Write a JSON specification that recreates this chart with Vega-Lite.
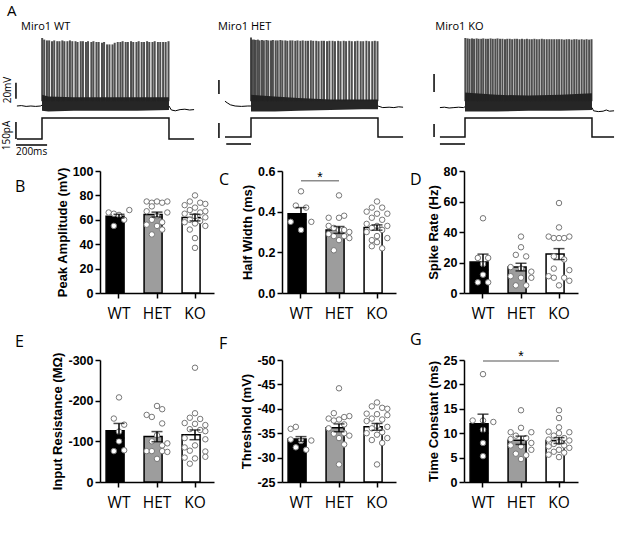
{
"$schema":"https://vega.github.io/schema/vega-lite/v6.json",
"padding":{"left":2,"top":3,"right":0,"bottom":8},
"autosize":{"type":"pad"},
"columns":3,
"spacing":{"row":67,"column":68},
"bounds":"flush",
"align":"each",
"datasets":{
"pts":[
{"m":"B","g":"WT","v":66,"s":-2},{"m":"B","g":"WT","v":65,"s":-1},{"m":"B","g":"WT","v":64,"s":0},{"m":"B","g":"WT","v":68,"s":2},{"m":"B","g":"WT","v":55,"s":-1},{"m":"B","g":"WT","v":60,"s":1},
{"m":"B","g":"HET","v":75,"s":-2},{"m":"B","g":"HET","v":74,"s":-1},{"m":"B","g":"HET","v":75,"s":0},{"m":"B","g":"HET","v":74,"s":1},{"m":"B","g":"HET","v":75,"s":2},{"m":"B","g":"HET","v":71,"s":-1},{"m":"B","g":"HET","v":67,"s":-2},{"m":"B","g":"HET","v":66,"s":2},{"m":"B","g":"HET","v":63,"s":0},{"m":"B","g":"HET","v":60,"s":-1},{"m":"B","g":"HET","v":58,"s":1},{"m":"B","g":"HET","v":56,"s":-2},{"m":"B","g":"HET","v":55,"s":0},{"m":"B","g":"HET","v":52,"s":1},{"m":"B","g":"HET","v":48,"s":-1},
{"m":"B","g":"KO","v":80,"s":0},{"m":"B","g":"KO","v":75,"s":-1},{"m":"B","g":"KO","v":74,"s":1},{"m":"B","g":"KO","v":73,"s":2},{"m":"B","g":"KO","v":72,"s":-2},{"m":"B","g":"KO","v":70,"s":0},{"m":"B","g":"KO","v":68,"s":-1},{"m":"B","g":"KO","v":67,"s":2},{"m":"B","g":"KO","v":66,"s":1},{"m":"B","g":"KO","v":65,"s":-2},{"m":"B","g":"KO","v":63,"s":0},{"m":"B","g":"KO","v":62,"s":2},{"m":"B","g":"KO","v":60,"s":-1},{"m":"B","g":"KO","v":59,"s":1},{"m":"B","g":"KO","v":58,"s":-2},{"m":"B","g":"KO","v":57,"s":0},{"m":"B","g":"KO","v":55,"s":2},{"m":"B","g":"KO","v":52,"s":-1},{"m":"B","g":"KO","v":45,"s":0},{"m":"B","g":"KO","v":37,"s":0},
{"m":"C","g":"WT","v":0.5,"s":0},{"m":"C","g":"WT","v":0.43,"s":-1},{"m":"C","g":"WT","v":0.42,"s":1},{"m":"C","g":"WT","v":0.35,"s":-2},{"m":"C","g":"WT","v":0.35,"s":2},{"m":"C","g":"WT","v":0.31,"s":0},
{"m":"C","g":"HET","v":0.48,"s":0},{"m":"C","g":"HET","v":0.37,"s":-2},{"m":"C","g":"HET","v":0.37,"s":0},{"m":"C","g":"HET","v":0.38,"s":1},{"m":"C","g":"HET","v":0.33,"s":-2},{"m":"C","g":"HET","v":0.32,"s":-1},{"m":"C","g":"HET","v":0.31,"s":1},{"m":"C","g":"HET","v":0.3,"s":2},{"m":"C","g":"HET","v":0.31,"s":0},{"m":"C","g":"HET","v":0.29,"s":-2},{"m":"C","g":"HET","v":0.28,"s":-1},{"m":"C","g":"HET","v":0.28,"s":1},{"m":"C","g":"HET","v":0.26,"s":0},{"m":"C","g":"HET","v":0.27,"s":2},{"m":"C","g":"HET","v":0.21,"s":-1},
{"m":"C","g":"KO","v":0.45,"s":0},{"m":"C","g":"KO","v":0.42,"s":-1},{"m":"C","g":"KO","v":0.42,"s":1},{"m":"C","g":"KO","v":0.4,"s":-2},{"m":"C","g":"KO","v":0.39,"s":0},{"m":"C","g":"KO","v":0.39,"s":2},{"m":"C","g":"KO","v":0.37,"s":-1},{"m":"C","g":"KO","v":0.36,"s":1},{"m":"C","g":"KO","v":0.34,"s":-2},{"m":"C","g":"KO","v":0.33,"s":0},{"m":"C","g":"KO","v":0.33,"s":2},{"m":"C","g":"KO","v":0.32,"s":-1},{"m":"C","g":"KO","v":0.31,"s":1},{"m":"C","g":"KO","v":0.3,"s":-2},{"m":"C","g":"KO","v":0.28,"s":0},{"m":"C","g":"KO","v":0.27,"s":2},{"m":"C","g":"KO","v":0.26,"s":-1},{"m":"C","g":"KO","v":0.23,"s":-1},{"m":"C","g":"KO","v":0.22,"s":1},{"m":"C","g":"KO","v":0.25,"s":0},
{"m":"D","g":"WT","v":49,"s":0},{"m":"D","g":"WT","v":23,"s":-1},{"m":"D","g":"WT","v":23,"s":1},{"m":"D","g":"WT","v":19,"s":0},{"m":"D","g":"WT","v":12,"s":0},{"m":"D","g":"WT","v":7,"s":-1},{"m":"D","g":"WT","v":7,"s":1},
{"m":"D","g":"HET","v":37,"s":0},{"m":"D","g":"HET","v":30,"s":0},{"m":"D","g":"HET","v":25,"s":-1},{"m":"D","g":"HET","v":24,"s":1},{"m":"D","g":"HET","v":17,"s":-2},{"m":"D","g":"HET","v":16,"s":0},{"m":"D","g":"HET","v":14,"s":2},{"m":"D","g":"HET","v":11,"s":-2},{"m":"D","g":"HET","v":10,"s":0},{"m":"D","g":"HET","v":10,"s":2},{"m":"D","g":"HET","v":5,"s":-1},{"m":"D","g":"HET","v":5,"s":1},
{"m":"D","g":"KO","v":59,"s":0},{"m":"D","g":"KO","v":43,"s":0},{"m":"D","g":"KO","v":37,"s":-2},{"m":"D","g":"KO","v":36,"s":-1},{"m":"D","g":"KO","v":36,"s":0},{"m":"D","g":"KO","v":36,"s":1},{"m":"D","g":"KO","v":37,"s":2},{"m":"D","g":"KO","v":24,"s":-1},{"m":"D","g":"KO","v":22,"s":1},{"m":"D","g":"KO","v":16,"s":-1},{"m":"D","g":"KO","v":15,"s":2},{"m":"D","g":"KO","v":11,"s":-2},{"m":"D","g":"KO","v":10,"s":-1},{"m":"D","g":"KO","v":10,"s":1},{"m":"D","g":"KO","v":8,"s":2},{"m":"D","g":"KO","v":5,"s":0},
{"m":"E","g":"WT","v":-208,"s":0},{"m":"E","g":"WT","v":-156,"s":-1},{"m":"E","g":"WT","v":-141,"s":1},{"m":"E","g":"WT","v":-124,"s":0},{"m":"E","g":"WT","v":-100,"s":0},{"m":"E","g":"WT","v":-76,"s":-1},{"m":"E","g":"WT","v":-78,"s":1},
{"m":"E","g":"HET","v":-187,"s":0},{"m":"E","g":"HET","v":-179,"s":1},{"m":"E","g":"HET","v":-165,"s":-2},{"m":"E","g":"HET","v":-160,"s":-1},{"m":"E","g":"HET","v":-144,"s":1},{"m":"E","g":"HET","v":-115,"s":0},{"m":"E","g":"HET","v":-100,"s":-1},{"m":"E","g":"HET","v":-95,"s":2},{"m":"E","g":"HET","v":-90,"s":1},{"m":"E","g":"HET","v":-76,"s":-2},{"m":"E","g":"HET","v":-76,"s":-1},{"m":"E","g":"HET","v":-76,"s":1},{"m":"E","g":"HET","v":-74,"s":2},{"m":"E","g":"HET","v":-57,"s":0},
{"m":"E","g":"KO","v":-281,"s":0},{"m":"E","g":"KO","v":-169,"s":0},{"m":"E","g":"KO","v":-158,"s":-1},{"m":"E","g":"KO","v":-155,"s":1},{"m":"E","g":"KO","v":-145,"s":-2},{"m":"E","g":"KO","v":-143,"s":0},{"m":"E","g":"KO","v":-140,"s":2},{"m":"E","g":"KO","v":-130,"s":-1},{"m":"E","g":"KO","v":-128,"s":1},{"m":"E","g":"KO","v":-125,"s":2},{"m":"E","g":"KO","v":-108,"s":-2},{"m":"E","g":"KO","v":-105,"s":2},{"m":"E","g":"KO","v":-90,"s":0},{"m":"E","g":"KO","v":-85,"s":-2},{"m":"E","g":"KO","v":-77,"s":-1},{"m":"E","g":"KO","v":-75,"s":2},{"m":"E","g":"KO","v":-60,"s":-2},{"m":"E","g":"KO","v":-58,"s":0},{"m":"E","g":"KO","v":-62,"s":2},{"m":"E","g":"KO","v":-45,"s":-1},
{"m":"F","g":"WT","v":-35.9,"s":-2},{"m":"F","g":"WT","v":-36.3,"s":-1},{"m":"F","g":"WT","v":-33.7,"s":-2},{"m":"F","g":"WT","v":-33.5,"s":2},{"m":"F","g":"WT","v":-33.4,"s":0},{"m":"F","g":"WT","v":-32.1,"s":-1},{"m":"F","g":"WT","v":-31.6,"s":1},
{"m":"F","g":"HET","v":-44.2,"s":0},{"m":"F","g":"HET","v":-39.1,"s":-1},{"m":"F","g":"HET","v":-38.5,"s":2},{"m":"F","g":"HET","v":-38.3,"s":1},{"m":"F","g":"HET","v":-38,"s":-2},{"m":"F","g":"HET","v":-37.8,"s":0},{"m":"F","g":"HET","v":-37.6,"s":-1},{"m":"F","g":"HET","v":-36.8,"s":1},{"m":"F","g":"HET","v":-36,"s":-2},{"m":"F","g":"HET","v":-35,"s":1},{"m":"F","g":"HET","v":-34.9,"s":-1},{"m":"F","g":"HET","v":-34.5,"s":2},{"m":"F","g":"HET","v":-34,"s":0},{"m":"F","g":"HET","v":-32.7,"s":1},{"m":"F","g":"HET","v":-28.6,"s":0},
{"m":"F","g":"KO","v":-41.3,"s":0},{"m":"F","g":"KO","v":-40.5,"s":-1},{"m":"F","g":"KO","v":-40.2,"s":1},{"m":"F","g":"KO","v":-40,"s":2},{"m":"F","g":"KO","v":-39,"s":-2},{"m":"F","g":"KO","v":-38.9,"s":0},{"m":"F","g":"KO","v":-38.7,"s":2},{"m":"F","g":"KO","v":-38,"s":-1},{"m":"F","g":"KO","v":-37.8,"s":1},{"m":"F","g":"KO","v":-37.5,"s":-2},{"m":"F","g":"KO","v":-36.5,"s":0},{"m":"F","g":"KO","v":-36.3,"s":2},{"m":"F","g":"KO","v":-36,"s":-1},{"m":"F","g":"KO","v":-35.2,"s":1},{"m":"F","g":"KO","v":-35,"s":-2},{"m":"F","g":"KO","v":-34.7,"s":0},{"m":"F","g":"KO","v":-34,"s":2},{"m":"F","g":"KO","v":-33.6,"s":-1},{"m":"F","g":"KO","v":-33,"s":1},{"m":"F","g":"KO","v":-28.6,"s":0},
{"m":"G","g":"WT","v":22.1,"s":0},{"m":"G","g":"WT","v":12.6,"s":-2},{"m":"G","g":"WT","v":12.6,"s":0},{"m":"G","g":"WT","v":12.3,"s":2},{"m":"G","g":"WT","v":10.7,"s":0},{"m":"G","g":"WT","v":8,"s":0},{"m":"G","g":"WT","v":5.3,"s":0},
{"m":"G","g":"HET","v":14.7,"s":0},{"m":"G","g":"HET","v":11.1,"s":0},{"m":"G","g":"HET","v":10.2,"s":-2},{"m":"G","g":"HET","v":10.2,"s":2},{"m":"G","g":"HET","v":9.5,"s":-1},{"m":"G","g":"HET","v":9,"s":1},{"m":"G","g":"HET","v":8.8,"s":-2},{"m":"G","g":"HET","v":8,"s":2},{"m":"G","g":"HET","v":7.5,"s":-2},{"m":"G","g":"HET","v":7.3,"s":0},{"m":"G","g":"HET","v":6.6,"s":2},{"m":"G","g":"HET","v":5.8,"s":-1},{"m":"G","g":"HET","v":5.5,"s":1},{"m":"G","g":"HET","v":4.7,"s":0},
{"m":"G","g":"KO","v":14.7,"s":0},{"m":"G","g":"KO","v":13.1,"s":0},{"m":"G","g":"KO","v":11.2,"s":0},{"m":"G","g":"KO","v":10.3,"s":-2},{"m":"G","g":"KO","v":10.2,"s":2},{"m":"G","g":"KO","v":10,"s":0},{"m":"G","g":"KO","v":9.5,"s":-1},{"m":"G","g":"KO","v":9,"s":1},{"m":"G","g":"KO","v":8.7,"s":-2},{"m":"G","g":"KO","v":8.5,"s":2},{"m":"G","g":"KO","v":8.2,"s":0},{"m":"G","g":"KO","v":7.8,"s":-1},{"m":"G","g":"KO","v":7.5,"s":1},{"m":"G","g":"KO","v":7.3,"s":-2},{"m":"G","g":"KO","v":7,"s":2},{"m":"G","g":"KO","v":6.6,"s":0},{"m":"G","g":"KO","v":6.2,"s":-1},{"m":"G","g":"KO","v":6,"s":1},{"m":"G","g":"KO","v":5.6,"s":-2},{"m":"G","g":"KO","v":5.1,"s":0}
],
"sum":[
{"m":"B","g":"WT","v":63,"lo":61.5,"hi":64.5},{"m":"B","g":"HET","v":64.3,"lo":62.3,"hi":66.3},{"m":"B","g":"KO","v":61.8,"lo":59.1,"hi":64.5},
{"m":"C","g":"WT","v":0.39,"lo":0.36,"hi":0.42},{"m":"C","g":"HET","v":0.31,"lo":0.293,"hi":0.327},{"m":"C","g":"KO","v":0.322,"lo":0.309,"hi":0.335},
{"m":"D","g":"WT","v":20.3,"lo":15.1,"hi":25.5},{"m":"D","g":"HET","v":17,"lo":14.5,"hi":19.5},{"m":"D","g":"KO","v":25.5,"lo":21.9,"hi":29.1},
{"m":"E","g":"WT","v":-126,"lo":-108,"hi":-144},{"m":"E","g":"HET","v":-111.6,"lo":-99,"hi":-124},{"m":"E","g":"KO","v":-116,"lo":-104,"hi":-128},
{"m":"F","g":"WT","v":-33.8,"lo":-33.3,"hi":-34.3},{"m":"F","g":"HET","v":-36.1,"lo":-35.3,"hi":-36.9},{"m":"F","g":"KO","v":-36.3,"lo":-35.6,"hi":-37},
{"m":"G","g":"WT","v":11.96,"lo":10,"hi":13.9},{"m":"G","g":"HET","v":8.56,"lo":7.7,"hi":9.4},{"m":"G","g":"KO","v":8.5,"lo":7.9,"hi":9.1}
],
"spk":[
{"tr":"WT","t":1,"pk":21},{"tr":"WT","t":14,"pk":19},{"tr":"WT","t":31,"pk":18},{"tr":"WT","t":45,"pk":18},{"tr":"WT","t":63,"pk":17},{"tr":"WT","t":77,"pk":18},{"tr":"WT","t":96,"pk":17},{"tr":"WT","t":110,"pk":17},{"tr":"WT","t":128,"pk":18},{"tr":"WT","t":141,"pk":17},{"tr":"WT","t":160,"pk":17},{"tr":"WT","t":176,"pk":18},{"tr":"WT","t":191,"pk":17},{"tr":"WT","t":211,"pk":17},{"tr":"WT","t":224,"pk":16},{"tr":"WT","t":244,"pk":17},{"tr":"WT","t":258,"pk":17},{"tr":"WT","t":277,"pk":16},{"tr":"WT","t":290,"pk":17},{"tr":"WT","t":311,"pk":16},{"tr":"WT","t":324,"pk":17},{"tr":"WT","t":343,"pk":16},{"tr":"WT","t":357,"pk":16},{"tr":"WT","t":378,"pk":15},{"tr":"WT","t":391,"pk":16},{"tr":"WT","t":410,"pk":13},{"tr":"WT","t":425,"pk":13},{"tr":"WT","t":444,"pk":13},{"tr":"WT","t":458,"pk":15},{"tr":"WT","t":477,"pk":16},{"tr":"WT","t":494,"pk":16},{"tr":"WT","t":508,"pk":17},{"tr":"WT","t":527,"pk":16},{"tr":"WT","t":541,"pk":16},{"tr":"WT","t":561,"pk":17},{"tr":"WT","t":575,"pk":16},{"tr":"WT","t":595,"pk":16},{"tr":"WT","t":609,"pk":17},{"tr":"WT","t":628,"pk":16},{"tr":"WT","t":643,"pk":16},{"tr":"WT","t":662,"pk":17},{"tr":"WT","t":676,"pk":16},{"tr":"WT","t":696,"pk":16},{"tr":"WT","t":710,"pk":17},{"tr":"WT","t":730,"pk":16},{"tr":"WT","t":745,"pk":16},{"tr":"WT","t":763,"pk":16},{"tr":"WT","t":779,"pk":16},{"tr":"WT","t":797,"pk":17},
{"tr":"HET","t":0,"pk":21.5},{"tr":"HET","t":9,"pk":19},{"tr":"HET","t":20,"pk":19},{"tr":"HET","t":30,"pk":18.5},{"tr":"HET","t":43,"pk":19},{"tr":"HET","t":54,"pk":18},{"tr":"HET","t":69,"pk":18.5},{"tr":"HET","t":81,"pk":18},{"tr":"HET","t":97,"pk":18.5},{"tr":"HET","t":109,"pk":18},{"tr":"HET","t":126,"pk":18},{"tr":"HET","t":138,"pk":18.5},{"tr":"HET","t":155,"pk":18},{"tr":"HET","t":168,"pk":18},{"tr":"HET","t":185,"pk":18.5},{"tr":"HET","t":198,"pk":18},{"tr":"HET","t":216,"pk":18},{"tr":"HET","t":229,"pk":17.5},{"tr":"HET","t":247,"pk":18},{"tr":"HET","t":261,"pk":18},{"tr":"HET","t":279,"pk":17.5},{"tr":"HET","t":293,"pk":18},{"tr":"HET","t":311,"pk":17.5},{"tr":"HET","t":326,"pk":18},{"tr":"HET","t":344,"pk":17.5},{"tr":"HET","t":359,"pk":17.5},{"tr":"HET","t":377,"pk":18},{"tr":"HET","t":392,"pk":17.5},{"tr":"HET","t":411,"pk":17.5},{"tr":"HET","t":426,"pk":17},{"tr":"HET","t":445,"pk":17.5},{"tr":"HET","t":460,"pk":17.5},{"tr":"HET","t":479,"pk":17},{"tr":"HET","t":494,"pk":17.5},{"tr":"HET","t":514,"pk":17.5},{"tr":"HET","t":529,"pk":17},{"tr":"HET","t":549,"pk":17.5},{"tr":"HET","t":564,"pk":17},{"tr":"HET","t":584,"pk":17.5},{"tr":"HET","t":599,"pk":17},{"tr":"HET","t":619,"pk":17.5},{"tr":"HET","t":635,"pk":17},{"tr":"HET","t":655,"pk":17},{"tr":"HET","t":671,"pk":17.5},{"tr":"HET","t":691,"pk":17},{"tr":"HET","t":707,"pk":17},{"tr":"HET","t":727,"pk":17.5},{"tr":"HET","t":744,"pk":17},{"tr":"HET","t":764,"pk":17},{"tr":"HET","t":780,"pk":17.5},{"tr":"HET","t":797,"pk":17},
{"tr":"KO","t":2,"pk":21},{"tr":"KO","t":16,"pk":20.5},{"tr":"KO","t":29,"pk":20},{"tr":"KO","t":44,"pk":20.5},{"tr":"KO","t":57,"pk":20},{"tr":"KO","t":73,"pk":20.5},{"tr":"KO","t":86,"pk":20},{"tr":"KO","t":102,"pk":20},{"tr":"KO","t":115,"pk":20.5},{"tr":"KO","t":131,"pk":20},{"tr":"KO","t":145,"pk":20},{"tr":"KO","t":161,"pk":20.5},{"tr":"KO","t":175,"pk":20},{"tr":"KO","t":191,"pk":20},{"tr":"KO","t":205,"pk":20.5},{"tr":"KO","t":221,"pk":20},{"tr":"KO","t":236,"pk":20},{"tr":"KO","t":252,"pk":19.5},{"tr":"KO","t":266,"pk":20},{"tr":"KO","t":282,"pk":20},{"tr":"KO","t":297,"pk":19.5},{"tr":"KO","t":313,"pk":20},{"tr":"KO","t":328,"pk":20},{"tr":"KO","t":344,"pk":19.5},{"tr":"KO","t":359,"pk":20},{"tr":"KO","t":375,"pk":19.5},{"tr":"KO","t":390,"pk":20},{"tr":"KO","t":406,"pk":19.5},{"tr":"KO","t":421,"pk":19.5},{"tr":"KO","t":437,"pk":20},{"tr":"KO","t":452,"pk":19.5},{"tr":"KO","t":468,"pk":19.5},{"tr":"KO","t":484,"pk":20},{"tr":"KO","t":499,"pk":19.5},{"tr":"KO","t":515,"pk":19.5},{"tr":"KO","t":531,"pk":19.5},{"tr":"KO","t":546,"pk":19.5},{"tr":"KO","t":562,"pk":19.5},{"tr":"KO","t":578,"pk":19.5},{"tr":"KO","t":593,"pk":19.5},{"tr":"KO","t":609,"pk":19.5},{"tr":"KO","t":625,"pk":19},{"tr":"KO","t":640,"pk":19.5},{"tr":"KO","t":656,"pk":19.5},{"tr":"KO","t":672,"pk":19},{"tr":"KO","t":688,"pk":19.5},{"tr":"KO","t":703,"pk":19.5},{"tr":"KO","t":719,"pk":19},{"tr":"KO","t":735,"pk":19.5},{"tr":"KO","t":751,"pk":19},{"tr":"KO","t":766,"pk":19.5},{"tr":"KO","t":782,"pk":19},{"tr":"KO","t":797,"pk":19.5}
],
"base":[
{"tr":"WT","seg":"a","t":-158,"v":-64},{"tr":"WT","seg":"a","t":-130,"v":-63.5},{"tr":"WT","seg":"a","t":-100,"v":-64.5},{"tr":"WT","seg":"a","t":-70,"v":-64},{"tr":"WT","seg":"a","t":-40,"v":-64.5},{"tr":"WT","seg":"a","t":-10,"v":-64},{"tr":"WT","seg":"a","t":0,"v":-63},
{"tr":"WT","seg":"b","t":800,"v":-64},{"tr":"WT","seg":"b","t":815,"v":-69},{"tr":"WT","seg":"b","t":840,"v":-70},{"tr":"WT","seg":"b","t":870,"v":-68.5},{"tr":"WT","seg":"b","t":900,"v":-68},{"tr":"WT","seg":"b","t":930,"v":-69},{"tr":"WT","seg":"b","t":958,"v":-68.5},
{"tr":"HET","seg":"a","t":-164,"v":-58},{"tr":"HET","seg":"a","t":-150,"v":-60},{"tr":"HET","seg":"a","t":-130,"v":-62.5},{"tr":"HET","seg":"a","t":-100,"v":-64},{"tr":"HET","seg":"a","t":-60,"v":-64.5},{"tr":"HET","seg":"a","t":-20,"v":-64},{"tr":"HET","seg":"a","t":0,"v":-64},
{"tr":"HET","seg":"b","t":800,"v":-64},{"tr":"HET","seg":"b","t":830,"v":-66},{"tr":"HET","seg":"b","t":870,"v":-65.5},{"tr":"HET","seg":"b","t":900,"v":-66},{"tr":"HET","seg":"b","t":930,"v":-65},{"tr":"HET","seg":"b","t":958,"v":-65.5},
{"tr":"KO","seg":"a","t":-158,"v":-66},{"tr":"KO","seg":"a","t":-130,"v":-65.5},{"tr":"KO","seg":"a","t":-100,"v":-66.5},{"tr":"KO","seg":"a","t":-70,"v":-66},{"tr":"KO","seg":"a","t":-40,"v":-65.5},{"tr":"KO","seg":"a","t":-10,"v":-66},{"tr":"KO","seg":"a","t":0,"v":-65},
{"tr":"KO","seg":"b","t":800,"v":-66},{"tr":"KO","seg":"b","t":810,"v":-70},{"tr":"KO","seg":"b","t":840,"v":-71},{"tr":"KO","seg":"b","t":870,"v":-70.5},{"tr":"KO","seg":"b","t":890,"v":-69},{"tr":"KO","seg":"b","t":910,"v":-70.5},{"tr":"KO","seg":"b","t":939,"v":-70}
],
"band":[
{"tr":"WT","t":0,"hi":-50,"lo":-70},{"tr":"WT","t":40,"hi":-52,"lo":-71},{"tr":"WT","t":200,"hi":-53,"lo":-70},{"tr":"WT","t":400,"hi":-53,"lo":-70},{"tr":"WT","t":600,"hi":-53,"lo":-70},{"tr":"WT","t":800,"hi":-53,"lo":-69},
{"tr":"HET","t":0,"hi":-50,"lo":-71},{"tr":"HET","t":150,"hi":-52,"lo":-71},{"tr":"HET","t":300,"hi":-54,"lo":-70},{"tr":"HET","t":500,"hi":-56,"lo":-69},{"tr":"HET","t":700,"hi":-56,"lo":-68},{"tr":"HET","t":800,"hi":-56,"lo":-68},
{"tr":"KO","t":0,"hi":-47,"lo":-71},{"tr":"KO","t":200,"hi":-50,"lo":-71},{"tr":"KO","t":400,"hi":-51,"lo":-70},{"tr":"KO","t":600,"hi":-50,"lo":-70},{"tr":"KO","t":800,"hi":-48,"lo":-69}
],
"cur":[
{"tr":"WT","k":1,"t":-158,"i":-10},{"tr":"WT","k":2,"t":0,"i":-10},{"tr":"WT","k":3,"t":0,"i":200},{"tr":"WT","k":4,"t":800,"i":200},{"tr":"WT","k":5,"t":800,"i":-10},{"tr":"WT","k":6,"t":958,"i":-10},
{"tr":"HET","k":1,"t":-164,"i":10},{"tr":"HET","k":2,"t":0,"i":10},{"tr":"HET","k":3,"t":0,"i":200},{"tr":"HET","k":4,"t":800,"i":200},{"tr":"HET","k":5,"t":800,"i":10},{"tr":"HET","k":6,"t":958,"i":10},
{"tr":"KO","k":1,"t":-158,"i":10},{"tr":"KO","k":2,"t":0,"i":10},{"tr":"KO","k":3,"t":0,"i":200},{"tr":"KO","k":4,"t":800,"i":200},{"tr":"KO","k":5,"t":800,"i":10},{"tr":"KO","k":6,"t":939,"i":10}
]
},
"concat":[
{"width":114,"height":68,"resolve":{"scale":{"y":"independent"}},"layer":[
 {"layer":[
  {"data":{"name":"band"},"transform":[{"filter":"datum.tr=='WT'"}],"mark":{"type":"area","color":"#000","opacity":0.85},"encoding":{"x":{"field":"t","type":"quantitative","scale":{"domain":[365.4,1083.6],"nice":false,"zero":false},"axis":null},"y":{"field":"hi","type":"quantitative","scale":{"domain":[-61.5,23.5],"nice":false,"zero":false},"axis":null},"y2":{"field":"lo"}}},
  {"data":{"name":"spk"},"transform":[{"filter":"datum.tr=='WT'"}],"mark":{"type":"rule","color":"#222222","strokeWidth":2,"opacity":0.8},"encoding":{"x":{"field":"t","type":"quantitative","scale":{"domain":[365.4,1083.6],"nice":false,"zero":false},"axis":null},"y":{"field":"pk","type":"quantitative","scale":{"domain":[-61.5,23.5],"nice":false,"zero":false},"axis":null},"y2":{"datum":-58}}},
  {"data":{"name":"base"},"transform":[{"filter":"datum.tr=='WT'"}],"mark":{"type":"line","color":"#000","strokeWidth":1},"encoding":{"x":{"field":"t","type":"quantitative","scale":{"domain":[365.4,1083.6],"nice":false,"zero":false},"axis":null},"y":{"field":"v","type":"quantitative","scale":{"domain":[-61.5,23.5],"nice":false,"zero":false},"axis":null},"detail":{"field":"seg","type":"nominal"}}},
  {"data":{"values":[{}]},"mark":{"type":"rule","color":"#000","strokeWidth":1.5},"encoding":{"x":{"datum":-164,"type":"quantitative","scale":{"domain":[365.4,1083.6],"nice":false,"zero":false},"axis":null},"y":{"datum":-55,"type":"quantitative","scale":{"domain":[-61.5,23.5],"nice":false,"zero":false},"axis":null},"y2":{"datum":-35}}},
  {"data":{"values":[{}]},"mark":{"type":"text","text":"A","font":"Open Sans","fontSize":15,"align":"left","baseline":"middle"},"encoding":{"x":{"datum":-220,"type":"quantitative","scale":{"domain":[365.4,1083.6],"nice":false,"zero":false},"axis":null},"y":{"datum":55,"type":"quantitative","scale":{"domain":[-61.5,23.5],"nice":false,"zero":false},"axis":null}}},
  {"data":{"values":[{}]},"mark":{"type":"text","text":"Miro1 WT","font":"Open Sans","fontSize":11,"align":"left","baseline":"middle"},"encoding":{"x":{"datum":-132,"type":"quantitative","scale":{"domain":[365.4,1083.6],"nice":false,"zero":false},"axis":null},"y":{"datum":34.4,"type":"quantitative","scale":{"domain":[-61.5,23.5],"nice":false,"zero":false},"axis":null}}},
  {"data":{"values":[{}]},"mark":{"type":"text","text":"20mV","font":"Open Sans","fontSize":10,"angle":270,"align":"center","baseline":"middle"},"encoding":{"x":{"datum":-217,"type":"quantitative","scale":{"domain":[365.4,1083.6],"nice":false,"zero":false},"axis":null},"y":{"datum":-44,"type":"quantitative","scale":{"domain":[-61.5,23.5],"nice":false,"zero":false},"axis":null}}}
 ]},
 {"layer":[
  {"data":{"name":"cur"},"transform":[{"filter":"datum.tr=='WT'"}],"mark":{"type":"line","color":"#111","strokeWidth":1.5},"encoding":{"x":{"field":"t","type":"quantitative","scale":{"domain":[365.4,1083.6],"nice":false,"zero":false},"axis":null},"y":{"field":"i","type":"quantitative","scale":{"domain":[340,1020],"nice":false,"zero":false},"axis":null},"order":{"field":"k","type":"quantitative"}}},
  {"data":{"values":[{}]},"mark":{"type":"rule","color":"#000","strokeWidth":1.5},"encoding":{"x":{"datum":-164,"type":"quantitative","scale":{"domain":[365.4,1083.6],"nice":false,"zero":false},"axis":null},"y":{"datum":-10,"type":"quantitative","scale":{"domain":[340,1020],"nice":false,"zero":false},"axis":null},"y2":{"datum":160}}},
  {"data":{"values":[{}]},"mark":{"type":"rule","color":"#000","strokeWidth":1.5},"encoding":{"x":{"datum":-164,"type":"quantitative","scale":{"domain":[365.4,1083.6],"nice":false,"zero":false},"axis":null},"x2":{"datum":32},"y":{"datum":-70,"type":"quantitative","scale":{"domain":[340,1020],"nice":false,"zero":false},"axis":null}}},
  {"data":{"values":[{}]},"mark":{"type":"text","text":"150pA","font":"Open Sans","fontSize":10,"angle":270,"align":"center","baseline":"middle"},"encoding":{"x":{"datum":-219,"type":"quantitative","scale":{"domain":[365.4,1083.6],"nice":false,"zero":false},"axis":null},"y":{"datum":25,"type":"quantitative","scale":{"domain":[340,1020],"nice":false,"zero":false},"axis":null}}},
  {"data":{"values":[{}]},"mark":{"type":"text","text":"200ms","font":"Open Sans","fontSize":10,"align":"left","baseline":"middle"},"encoding":{"x":{"datum":-164,"type":"quantitative","scale":{"domain":[365.4,1083.6],"nice":false,"zero":false},"axis":null},"y":{"datum":-140,"type":"quantitative","scale":{"domain":[340,1020],"nice":false,"zero":false},"axis":null}}}
 ]}
]},
{"width":114,"height":68,"resolve":{"scale":{"y":"independent"}},"layer":[
 {"layer":[
  {"data":{"name":"band"},"transform":[{"filter":"datum.tr=='HET'"}],"mark":{"type":"area","color":"#000","opacity":0.85},"encoding":{"x":{"field":"t","type":"quantitative","scale":{"domain":[195.3,913.5],"nice":false,"zero":false},"axis":null},"y":{"field":"hi","type":"quantitative","scale":{"domain":[-61.5,23.5],"nice":false,"zero":false},"axis":null},"y2":{"field":"lo"}}},
  {"data":{"name":"spk"},"transform":[{"filter":"datum.tr=='HET'"}],"mark":{"type":"rule","color":"#222222","strokeWidth":2,"opacity":0.8},"encoding":{"x":{"field":"t","type":"quantitative","scale":{"domain":[195.3,913.5],"nice":false,"zero":false},"axis":null},"y":{"field":"pk","type":"quantitative","scale":{"domain":[-61.5,23.5],"nice":false,"zero":false},"axis":null},"y2":{"datum":-58}}},
  {"data":{"name":"base"},"transform":[{"filter":"datum.tr=='HET'"}],"mark":{"type":"line","color":"#000","strokeWidth":1},"encoding":{"x":{"field":"t","type":"quantitative","scale":{"domain":[195.3,913.5],"nice":false,"zero":false},"axis":null},"y":{"field":"v","type":"quantitative","scale":{"domain":[-61.5,23.5],"nice":false,"zero":false},"axis":null},"detail":{"field":"seg","type":"nominal"}}},
  {"data":{"values":[{}]},"mark":{"type":"rule","color":"#000","strokeWidth":1.5},"encoding":{"x":{"datum":-202,"type":"quantitative","scale":{"domain":[195.3,913.5],"nice":false,"zero":false},"axis":null},"y":{"datum":-49,"type":"quantitative","scale":{"domain":[-61.5,23.5],"nice":false,"zero":false},"axis":null},"y2":{"datum":-31.5}}},
  {"data":{"values":[{}]},"mark":{"type":"text","text":"Miro1 HET","font":"Open Sans","fontSize":11,"align":"left","baseline":"middle"},"encoding":{"x":{"datum":-208,"type":"quantitative","scale":{"domain":[195.3,913.5],"nice":false,"zero":false},"axis":null},"y":{"datum":35.1,"type":"quantitative","scale":{"domain":[-61.5,23.5],"nice":false,"zero":false},"axis":null}}}
 ]},
 {"layer":[
  {"data":{"name":"cur"},"transform":[{"filter":"datum.tr=='HET'"}],"mark":{"type":"line","color":"#111","strokeWidth":1.5},"encoding":{"x":{"field":"t","type":"quantitative","scale":{"domain":[195.3,913.5],"nice":false,"zero":false},"axis":null},"y":{"field":"i","type":"quantitative","scale":{"domain":[340,1020],"nice":false,"zero":false},"axis":null},"order":{"field":"k","type":"quantitative"}}},
  {"data":{"values":[{}]},"mark":{"type":"rule","color":"#000","strokeWidth":1.5},"encoding":{"x":{"datum":-202,"type":"quantitative","scale":{"domain":[195.3,913.5],"nice":false,"zero":false},"axis":null},"y":{"datum":0,"type":"quantitative","scale":{"domain":[340,1020],"nice":false,"zero":false},"axis":null},"y2":{"datum":150}}},
  {"data":{"values":[{}]},"mark":{"type":"rule","color":"#000","strokeWidth":1.5},"encoding":{"x":{"datum":-156,"type":"quantitative","scale":{"domain":[195.3,913.5],"nice":false,"zero":false},"axis":null},"x2":{"datum":0},"y":{"datum":-60,"type":"quantitative","scale":{"domain":[340,1020],"nice":false,"zero":false},"axis":null}}}
 ]}
]},
{"width":114,"height":68,"resolve":{"scale":{"y":"independent"}},"layer":[
 {"layer":[
  {"data":{"name":"band"},"transform":[{"filter":"datum.tr=='KO'"}],"mark":{"type":"area","color":"#000","opacity":0.85},"encoding":{"x":{"field":"t","type":"quantitative","scale":{"domain":[-6.3,711.9],"nice":false,"zero":false},"axis":null},"y":{"field":"hi","type":"quantitative","scale":{"domain":[-61.5,23.5],"nice":false,"zero":false},"axis":null},"y2":{"field":"lo"}}},
  {"data":{"name":"spk"},"transform":[{"filter":"datum.tr=='KO'"}],"mark":{"type":"rule","color":"#222222","strokeWidth":2,"opacity":0.8},"encoding":{"x":{"field":"t","type":"quantitative","scale":{"domain":[-6.3,711.9],"nice":false,"zero":false},"axis":null},"y":{"field":"pk","type":"quantitative","scale":{"domain":[-61.5,23.5],"nice":false,"zero":false},"axis":null},"y2":{"datum":-58}}},
  {"data":{"name":"base"},"transform":[{"filter":"datum.tr=='KO'"}],"mark":{"type":"line","color":"#000","strokeWidth":1},"encoding":{"x":{"field":"t","type":"quantitative","scale":{"domain":[-6.3,711.9],"nice":false,"zero":false},"axis":null},"y":{"field":"v","type":"quantitative","scale":{"domain":[-61.5,23.5],"nice":false,"zero":false},"axis":null},"detail":{"field":"seg","type":"nominal"}}},
  {"data":{"values":[{}]},"mark":{"type":"rule","color":"#000","strokeWidth":1.5},"encoding":{"x":{"datum":-195,"type":"quantitative","scale":{"domain":[-6.3,711.9],"nice":false,"zero":false},"axis":null},"y":{"datum":-46.5,"type":"quantitative","scale":{"domain":[-61.5,23.5],"nice":false,"zero":false},"axis":null},"y2":{"datum":-24}}},
  {"data":{"values":[{}]},"mark":{"type":"text","text":"Miro1 KO","font":"Open Sans","fontSize":11,"align":"left","baseline":"middle"},"encoding":{"x":{"datum":-187,"type":"quantitative","scale":{"domain":[-6.3,711.9],"nice":false,"zero":false},"axis":null},"y":{"datum":35.1,"type":"quantitative","scale":{"domain":[-61.5,23.5],"nice":false,"zero":false},"axis":null}}}
 ]},
 {"layer":[
  {"data":{"name":"cur"},"transform":[{"filter":"datum.tr=='KO'"}],"mark":{"type":"line","color":"#111","strokeWidth":1.5},"encoding":{"x":{"field":"t","type":"quantitative","scale":{"domain":[-6.3,711.9],"nice":false,"zero":false},"axis":null},"y":{"field":"i","type":"quantitative","scale":{"domain":[340,1020],"nice":false,"zero":false},"axis":null},"order":{"field":"k","type":"quantitative"}}},
  {"data":{"values":[{}]},"mark":{"type":"rule","color":"#000","strokeWidth":1.5},"encoding":{"x":{"datum":-195,"type":"quantitative","scale":{"domain":[-6.3,711.9],"nice":false,"zero":false},"axis":null},"y":{"datum":10,"type":"quantitative","scale":{"domain":[340,1020],"nice":false,"zero":false},"axis":null},"y2":{"datum":140}}},
  {"data":{"values":[{}]},"mark":{"type":"rule","color":"#000","strokeWidth":1.5},"encoding":{"x":{"datum":-158,"type":"quantitative","scale":{"domain":[-6.3,711.9],"nice":false,"zero":false},"axis":null},"x2":{"datum":0},"y":{"datum":-60,"type":"quantitative","scale":{"domain":[340,1020],"nice":false,"zero":false},"axis":null}}}
 ]}
]},
{"width":114,"height":122,"title":{"text":"B","dx":-85,"dy":34},
 "encoding":{"x":{"field":"g","type":"nominal","sort":["WT","HET","KO"],"scale":{"domain":["WT","HET","KO"],"paddingInner":0.32,"paddingOuter":0.16},"axis":{"title":null}},
  "y":{"field":"v","type":"quantitative","scale":{"domain":[0,100],"nice":false},"axis":{"title":"Peak Amplitude (mV)","values":[0,20,40,60,80,100]}}},
 "layer":[
  {"data":{"name":"sum"},"transform":[{"filter":"datum.m=='B'"}],"mark":{"type":"bar","stroke":"#000","strokeWidth":1.5},"encoding":{"fill":{"field":"g","type":"nominal","scale":{"domain":["WT","HET","KO"],"range":["#000000","#9d9d9d","#ffffff"]},"legend":null}}},
  {"data":{"name":"pts"},"transform":[{"filter":"datum.m=='B'"}],"mark":{"type":"point","shape":"circle","filled":true,"color":"#ffffff","stroke":"#777777","strokeWidth":1,"size":30,"opacity":1},"encoding":{"xOffset":{"field":"s","type":"ordinal","scale":{"domain":[-2,-1,0,1,2]}}}},
  {"data":{"name":"sum"},"transform":[{"filter":"datum.m=='B'"}],"mark":{"type":"rule","color":"#000","strokeWidth":1.5},"encoding":{"y":{"field":"lo","type":"quantitative","scale":{"domain":[0,100],"nice":false}},"y2":{"field":"hi"}}},
  {"data":{"name":"sum"},"transform":[{"filter":"datum.m=='B'"}],"mark":{"type":"tick","color":"#000","thickness":1.5,"size":11},"encoding":{"y":{"field":"hi","type":"quantitative","scale":{"domain":[0,100],"nice":false}}}},
  {"data":{"name":"sum"},"transform":[{"filter":"datum.m=='B'"}],"mark":{"type":"tick","color":"#000","thickness":1.5,"size":11},"encoding":{"y":{"field":"lo","type":"quantitative","scale":{"domain":[0,100],"nice":false}}}}
 ]},
{"width":114,"height":122,"title":{"text":"C","dx":-63,"dy":27},
 "encoding":{"x":{"field":"g","type":"nominal","sort":["WT","HET","KO"],"scale":{"domain":["WT","HET","KO"],"paddingInner":0.32,"paddingOuter":0.16},"axis":{"title":null}},
  "y":{"field":"v","type":"quantitative","scale":{"domain":[0,0.6],"nice":false},"axis":{"title":"Half Width (ms)","values":[0,0.2,0.4,0.6],"format":".1f"}}},
 "layer":[
  {"data":{"name":"sum"},"transform":[{"filter":"datum.m=='C'"}],"mark":{"type":"bar","stroke":"#000","strokeWidth":1.5},"encoding":{"fill":{"field":"g","type":"nominal","scale":{"domain":["WT","HET","KO"],"range":["#000000","#9d9d9d","#ffffff"]},"legend":null}}},
  {"data":{"name":"pts"},"transform":[{"filter":"datum.m=='C'"}],"mark":{"type":"point","shape":"circle","filled":true,"color":"#ffffff","stroke":"#777777","strokeWidth":1,"size":30,"opacity":1},"encoding":{"xOffset":{"field":"s","type":"ordinal","scale":{"domain":[-2,-1,0,1,2]}}}},
  {"data":{"name":"sum"},"transform":[{"filter":"datum.m=='C'"}],"mark":{"type":"rule","color":"#000","strokeWidth":1.5},"encoding":{"y":{"field":"lo","type":"quantitative","scale":{"domain":[0,0.6],"nice":false}},"y2":{"field":"hi"}}},
  {"data":{"name":"sum"},"transform":[{"filter":"datum.m=='C'"}],"mark":{"type":"tick","color":"#000","thickness":1.5,"size":11},"encoding":{"y":{"field":"hi","type":"quantitative","scale":{"domain":[0,0.6],"nice":false}}}},
  {"data":{"name":"sum"},"transform":[{"filter":"datum.m=='C'"}],"mark":{"type":"tick","color":"#000","thickness":1.5,"size":11},"encoding":{"y":{"field":"lo","type":"quantitative","scale":{"domain":[0,0.6],"nice":false}}}},
  {"data":{"values":[{"g":"WT","v":0.552},{"g":"HET","v":0.552}]},"mark":{"type":"line","color":"#8c8c8c","strokeWidth":1.5},"encoding":{}},
  {"data":{"values":[{"g":"WT","v":0.566}]},"mark":{"type":"text","text":"*","fontSize":14,"dx":6,"baseline":"middle","align":"center"},"encoding":{"x":{"field":"g","type":"nominal","bandPosition":1,"sort":["WT","HET","KO"],"scale":{"domain":["WT","HET","KO"],"paddingInner":0.32,"paddingOuter":0.16}}}}
 ]},
{"width":114,"height":122,"title":{"text":"D","dx":-54,"dy":27},
 "encoding":{"x":{"field":"g","type":"nominal","sort":["WT","HET","KO"],"scale":{"domain":["WT","HET","KO"],"paddingInner":0.32,"paddingOuter":0.16},"axis":{"title":null}},
  "y":{"field":"v","type":"quantitative","scale":{"domain":[0,80],"nice":false},"axis":{"title":"Spike Rate (Hz)","values":[0,20,40,60,80]}}},
 "layer":[
  {"data":{"name":"sum"},"transform":[{"filter":"datum.m=='D'"}],"mark":{"type":"bar","stroke":"#000","strokeWidth":1.5},"encoding":{"fill":{"field":"g","type":"nominal","scale":{"domain":["WT","HET","KO"],"range":["#000000","#9d9d9d","#ffffff"]},"legend":null}}},
  {"data":{"name":"pts"},"transform":[{"filter":"datum.m=='D'"}],"mark":{"type":"point","shape":"circle","filled":true,"color":"#ffffff","stroke":"#777777","strokeWidth":1,"size":30,"opacity":1},"encoding":{"xOffset":{"field":"s","type":"ordinal","scale":{"domain":[-2,-1,0,1,2]}}}},
  {"data":{"name":"sum"},"transform":[{"filter":"datum.m=='D'"}],"mark":{"type":"rule","color":"#000","strokeWidth":1.5},"encoding":{"y":{"field":"lo","type":"quantitative","scale":{"domain":[0,80],"nice":false}},"y2":{"field":"hi"}}},
  {"data":{"name":"sum"},"transform":[{"filter":"datum.m=='D'"}],"mark":{"type":"tick","color":"#000","thickness":1.5,"size":11},"encoding":{"y":{"field":"hi","type":"quantitative","scale":{"domain":[0,80],"nice":false}}}},
  {"data":{"name":"sum"},"transform":[{"filter":"datum.m=='D'"}],"mark":{"type":"tick","color":"#000","thickness":1.5,"size":11},"encoding":{"y":{"field":"lo","type":"quantitative","scale":{"domain":[0,80],"nice":false}}}}
 ]},
{"width":114,"height":122,"title":{"text":"E","dx":-85,"dy":2},
 "encoding":{"x":{"field":"g","type":"nominal","sort":["WT","HET","KO"],"scale":{"domain":["WT","HET","KO"],"paddingInner":0.32,"paddingOuter":0.16},"axis":{"title":null}},
  "y":{"field":"v","type":"quantitative","scale":{"domain":[-300,0],"reverse":true,"nice":false},"axis":{"title":"Input Resistance (MΩ)","values":[-300,-200,-100,0],"labelExpr":"'' + datum.value"}}},
 "layer":[
  {"data":{"name":"sum"},"transform":[{"filter":"datum.m=='E'"}],"mark":{"type":"bar","stroke":"#000","strokeWidth":1.5},"encoding":{"fill":{"field":"g","type":"nominal","scale":{"domain":["WT","HET","KO"],"range":["#000000","#9d9d9d","#ffffff"]},"legend":null}}},
  {"data":{"name":"pts"},"transform":[{"filter":"datum.m=='E'"}],"mark":{"type":"point","shape":"circle","filled":true,"color":"#ffffff","stroke":"#777777","strokeWidth":1,"size":30,"opacity":1},"encoding":{"xOffset":{"field":"s","type":"ordinal","scale":{"domain":[-2,-1,0,1,2]}}}},
  {"data":{"name":"sum"},"transform":[{"filter":"datum.m=='E'"}],"mark":{"type":"rule","color":"#000","strokeWidth":1.5},"encoding":{"y":{"field":"lo","type":"quantitative","scale":{"domain":[-300,0],"reverse":true,"nice":false}},"y2":{"field":"hi"}}},
  {"data":{"name":"sum"},"transform":[{"filter":"datum.m=='E'"}],"mark":{"type":"tick","color":"#000","thickness":1.5,"size":11},"encoding":{"y":{"field":"hi","type":"quantitative","scale":{"domain":[-300,0],"reverse":true,"nice":false}}}},
  {"data":{"name":"sum"},"transform":[{"filter":"datum.m=='E'"}],"mark":{"type":"tick","color":"#000","thickness":1.5,"size":11},"encoding":{"y":{"field":"lo","type":"quantitative","scale":{"domain":[-300,0],"reverse":true,"nice":false}}}}
 ]},
{"width":114,"height":122,"title":{"text":"F","dx":-63,"dy":2},
 "encoding":{"x":{"field":"g","type":"nominal","sort":["WT","HET","KO"],"scale":{"domain":["WT","HET","KO"],"paddingInner":0.32,"paddingOuter":0.16},"axis":{"title":null}},
  "y":{"field":"v","type":"quantitative","scale":{"domain":[-50,-25],"reverse":true,"nice":false,"zero":false},"axis":{"title":"Threshold (mV)","values":[-50,-45,-40,-35,-30,-25],"labelExpr":"'' + datum.value"}}},
 "layer":[
  {"data":{"name":"sum"},"transform":[{"filter":"datum.m=='F'"}],"mark":{"type":"bar","stroke":"#000","strokeWidth":1.5},"encoding":{"y2":{"datum":-25},"fill":{"field":"g","type":"nominal","scale":{"domain":["WT","HET","KO"],"range":["#000000","#9d9d9d","#ffffff"]},"legend":null}}},
  {"data":{"name":"pts"},"transform":[{"filter":"datum.m=='F'"}],"mark":{"type":"point","shape":"circle","filled":true,"color":"#ffffff","stroke":"#777777","strokeWidth":1,"size":30,"opacity":1},"encoding":{"xOffset":{"field":"s","type":"ordinal","scale":{"domain":[-2,-1,0,1,2]}}}},
  {"data":{"name":"sum"},"transform":[{"filter":"datum.m=='F'"}],"mark":{"type":"rule","color":"#000","strokeWidth":1.5},"encoding":{"y":{"field":"lo","type":"quantitative","scale":{"domain":[-50,-25],"reverse":true,"nice":false,"zero":false}},"y2":{"field":"hi"}}},
  {"data":{"name":"sum"},"transform":[{"filter":"datum.m=='F'"}],"mark":{"type":"tick","color":"#000","thickness":1.5,"size":11},"encoding":{"y":{"field":"hi","type":"quantitative","scale":{"domain":[-50,-25],"reverse":true,"nice":false,"zero":false}}}},
  {"data":{"name":"sum"},"transform":[{"filter":"datum.m=='F'"}],"mark":{"type":"tick","color":"#000","thickness":1.5,"size":11},"encoding":{"y":{"field":"lo","type":"quantitative","scale":{"domain":[-50,-25],"reverse":true,"nice":false,"zero":false}}}}
 ]},
{"width":114,"height":122,"title":{"text":"G","dx":-54,"dy":2},
 "encoding":{"x":{"field":"g","type":"nominal","sort":["WT","HET","KO"],"scale":{"domain":["WT","HET","KO"],"paddingInner":0.32,"paddingOuter":0.16},"axis":{"title":null}},
  "y":{"field":"v","type":"quantitative","scale":{"domain":[0,25],"nice":false},"axis":{"title":"Time Constant (ms)","values":[0,5,10,15,20,25]}}},
 "layer":[
  {"data":{"name":"sum"},"transform":[{"filter":"datum.m=='G'"}],"mark":{"type":"bar","stroke":"#000","strokeWidth":1.5},"encoding":{"fill":{"field":"g","type":"nominal","scale":{"domain":["WT","HET","KO"],"range":["#000000","#9d9d9d","#ffffff"]},"legend":null}}},
  {"data":{"name":"pts"},"transform":[{"filter":"datum.m=='G'"}],"mark":{"type":"point","shape":"circle","filled":true,"color":"#ffffff","stroke":"#777777","strokeWidth":1,"size":30,"opacity":1},"encoding":{"xOffset":{"field":"s","type":"ordinal","scale":{"domain":[-2,-1,0,1,2]}}}},
  {"data":{"name":"sum"},"transform":[{"filter":"datum.m=='G'"}],"mark":{"type":"rule","color":"#000","strokeWidth":1.5},"encoding":{"y":{"field":"lo","type":"quantitative","scale":{"domain":[0,25],"nice":false}},"y2":{"field":"hi"}}},
  {"data":{"name":"sum"},"transform":[{"filter":"datum.m=='G'"}],"mark":{"type":"tick","color":"#000","thickness":1.5,"size":11},"encoding":{"y":{"field":"hi","type":"quantitative","scale":{"domain":[0,25],"nice":false}}}},
  {"data":{"name":"sum"},"transform":[{"filter":"datum.m=='G'"}],"mark":{"type":"tick","color":"#000","thickness":1.5,"size":11},"encoding":{"y":{"field":"lo","type":"quantitative","scale":{"domain":[0,25],"nice":false}}}},
  {"data":{"values":[{"g":"WT","v":24.8},{"g":"KO","v":24.8}]},"mark":{"type":"line","color":"#8c8c8c","strokeWidth":1.5},"encoding":{}},
  {"data":{"values":[{"g":"HET","v":25.6}]},"mark":{"type":"text","text":"*","fontSize":14,"baseline":"middle","align":"center"},"encoding":{}}
 ]}
],
"config":{
 "view":{"stroke":null},
 "font":"Liberation Sans",
 "axis":{"grid":false,"domainColor":"#000","domainWidth":1.5,"tickColor":"#000","tickWidth":1.5,"tickSize":5,"labelColor":"#000","titleColor":"#000"},
 "axisX":{"labelFont":"Open Sans","labelFontSize":15.5,"labelAngle":0,"labelPadding":8.5},
 "axisY":{"labelFont":"Liberation Sans","labelFontSize":12.5,"labelFontWeight":"bold","labelPadding":2,"titleFont":"Liberation Sans","titleFontSize":13,"titleFontWeight":"bold","titlePadding":3},
 "title":{"font":"Open Sans","fontSize":16,"fontWeight":"normal","anchor":"start","frame":"group","offset":0,"color":"#000"}
}
}
